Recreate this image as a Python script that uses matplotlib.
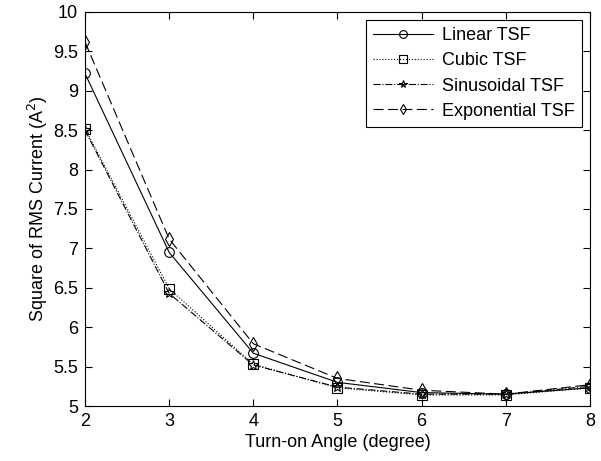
import numpy as np
from matplotlib import pyplot as plt

plt.rcParams['font.family'] = ['Liberation Sans', 'DejaVu Sans']

angle = [2, 3, 4, 5, 6, 7, 8]
linear = [9.22, 6.95, 5.67, 5.30, 5.17, 5.15, 5.23]
cubic = [8.52, 6.49, 5.53, 5.23, 5.14, 5.14, 5.23]
sinusoidal = [8.50, 6.43, 5.52, 5.24, 5.15, 5.15, 5.25]
exponential = [9.62, 7.12, 5.79, 5.35, 5.20, 5.15, 5.27]

fig = plt.figure(figsize=(6.01, 4.61), dpi=100)
ax = fig.add_axes([0.1414, 0.1193, 0.8403, 0.8547])

mk = dict(color='k', lw=0.8, markerfacecolor='none', markeredgecolor='k', markersize=7, markeredgewidth=0.8)
ax.plot(angle, linear, '-', marker='o', label='Linear TSF', **mk)
ax.plot(angle, cubic, ':', marker='s', label='Cubic TSF', **mk)
ax.plot(angle, sinusoidal, '-.', marker='*', label='Sinusoidal TSF', **mk)
ax.plot(angle, exponential, marker='d', dashes=(9, 4), label='Exponential TSF', **mk)

ax.set_xlim(2, 8)
ax.set_ylim(5, 10)
ax.set_xticks(np.arange(2, 9, 1))
ax.set_yticks(np.arange(5, 10.01, 0.5))
ax.set_yticklabels(['5', '5.5', '6', '6.5', '7', '7.5', '8', '8.5', '9', '9.5', '10'])
ax.tick_params(direction='in', top=True, right=True, labelsize=13, length=5, pad=5)
ax.set_xlabel('Turn-on Angle (degree)', fontsize=13, labelpad=3)
ax.set_ylabel('Square of RMS Current (A$^2$)', fontsize=13, labelpad=2)

leg = ax.legend(loc='upper right', fontsize=13, fancybox=False, edgecolor='k',
                handlelength=3.3, framealpha=1, borderaxespad=0.45,
                labelspacing=0.45, handletextpad=0.5, borderpad=0.4, markerscale=0.8)
leg.get_frame().set_linewidth(0.8)

fig.savefig('out.png', dpi=100)
